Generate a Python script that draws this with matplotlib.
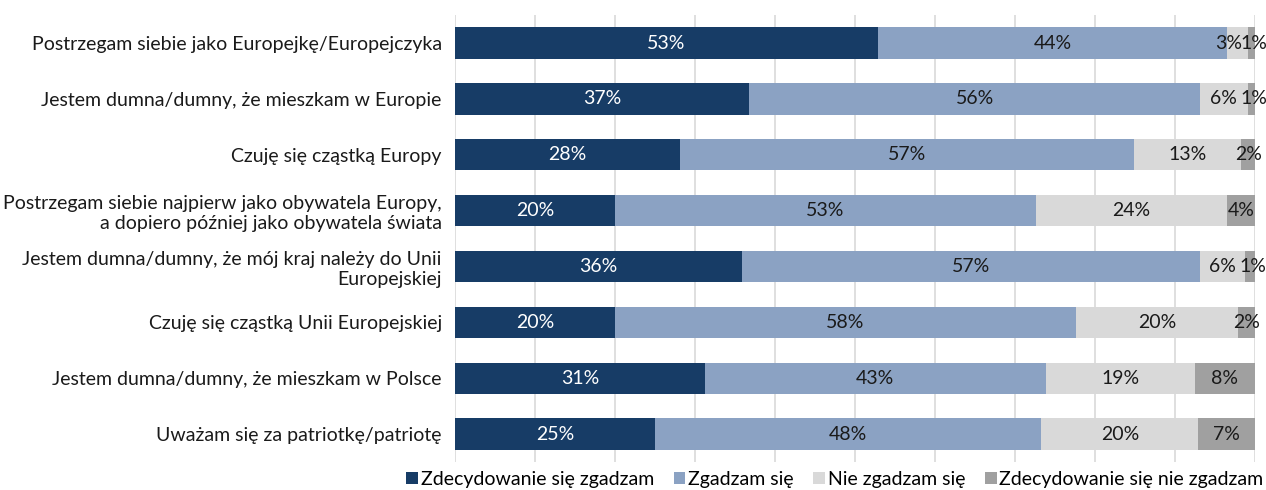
import numpy as np
import matplotlib
matplotlib.use("Agg")
import matplotlib.pyplot as plt


# Statements (top to bottom as shown)
CATEGORIES = [
    "Postrzegam siebie jako Europejkę/Europejczyka",
    "Jestem dumna/dumny, że mieszkam w Europie",
    "Czuję się cząstką Europy",
    "Postrzegam siebie najpierw jako obywatela Europy,\na dopiero później jako obywatela świata",
    "Jestem dumna/dumny, że mój kraj należy do Unii\nEuropejskiej",
    "Czuję się cząstką Unii Europejskiej",
    "Jestem dumna/dumny, że mieszkam w Polsce",
    "Uważam się za patriotkę/patriotę",
]

SERIES_NAMES = [
    "Zdecydowanie się zgadzam",
    "Zgadzam się",
    "Nie zgadzam się",
    "Zdecydowanie się nie zgadzam",
]

# shares in %
STRONGLY_AGREE = [52.9, 36.8, 28.1, 20.0, 35.9, 20.0, 31.2, 25.0]
AGREE = [43.6, 56.3, 56.8, 52.6, 57.2, 57.6, 42.7, 48.3]
DISAGREE = [2.6, 6.0, 13.4, 23.9, 5.7, 20.3, 18.6, 19.6]
STRONGLY_DISAGREE = [0.9, 0.9, 1.7, 3.5, 1.2, 2.1, 7.5, 7.1]

COLORS = ["#173c66", "#8ba2c3", "#d9d9d9", "#a0a0a0"]
TEXT_COLORS = ["white", "#1a1a1a", "#1a1a1a", "#1a1a1a"]
FS = 14

plt.rcParams["font.family"] = ["Lato", "DejaVu Sans"]

fig = plt.figure(figsize=(12.66, 4.9), dpi=100)
ax = fig.add_axes([0.3594, 0.057, 0.6319, 0.912])

series = [STRONGLY_AGREE, AGREE, DISAGREE, STRONGLY_DISAGREE]
y = np.arange(len(CATEGORIES))
left = np.zeros(len(CATEGORIES))

for k, (vals, name, col, tcol) in enumerate(zip(series, SERIES_NAMES, COLORS, TEXT_COLORS)):
    vals = np.array(vals)
    bars = ax.barh(y, vals, left=left, height=0.56, color=col, label=name, zorder=2)
    for i, (b, v) in enumerate(zip(bars, vals)):
        xc = b.get_x() + b.get_width() / 2
        # tiny neighbouring segments at the right end: spread the labels a bit
        if k == 2 and v < 4 and STRONGLY_DISAGREE[i] < 1.5:
            xc -= 1.1
        if k == 3 and v < 1.5:
            xc += 0.35
        ax.text(xc, b.get_y() + b.get_height() / 2, f"{round(v)}%",
                ha="center", va="center", color=tcol, fontsize=FS)
    left += vals

ax.set_xlim(0, 100)
ax.set_ylim(len(CATEGORIES) - 0.5, -0.5)
ax.set_yticks(y)
ax.set_yticklabels(CATEGORIES, fontsize=FS, color="#1a1a1a")
ax.set_xticks(np.arange(0, 101, 10))
ax.tick_params(axis="x", bottom=False, labelbottom=False)
ax.tick_params(axis="y", left=False, pad=6)
ax.grid(axis="x", color="#d9d9d9", linewidth=1.2, zorder=0)
for s in ax.spines.values():
    s.set_visible(False)

fig.legend(*ax.get_legend_handles_labels(), loc="center",
           bbox_to_anchor=(835 / 1266, 0.022), ncol=4, frameon=False,
           fontsize=FS, handlelength=0.6, handleheight=0.6, handletextpad=0.15,
           columnspacing=1.0)

fig.savefig("out.png", dpi=100)
